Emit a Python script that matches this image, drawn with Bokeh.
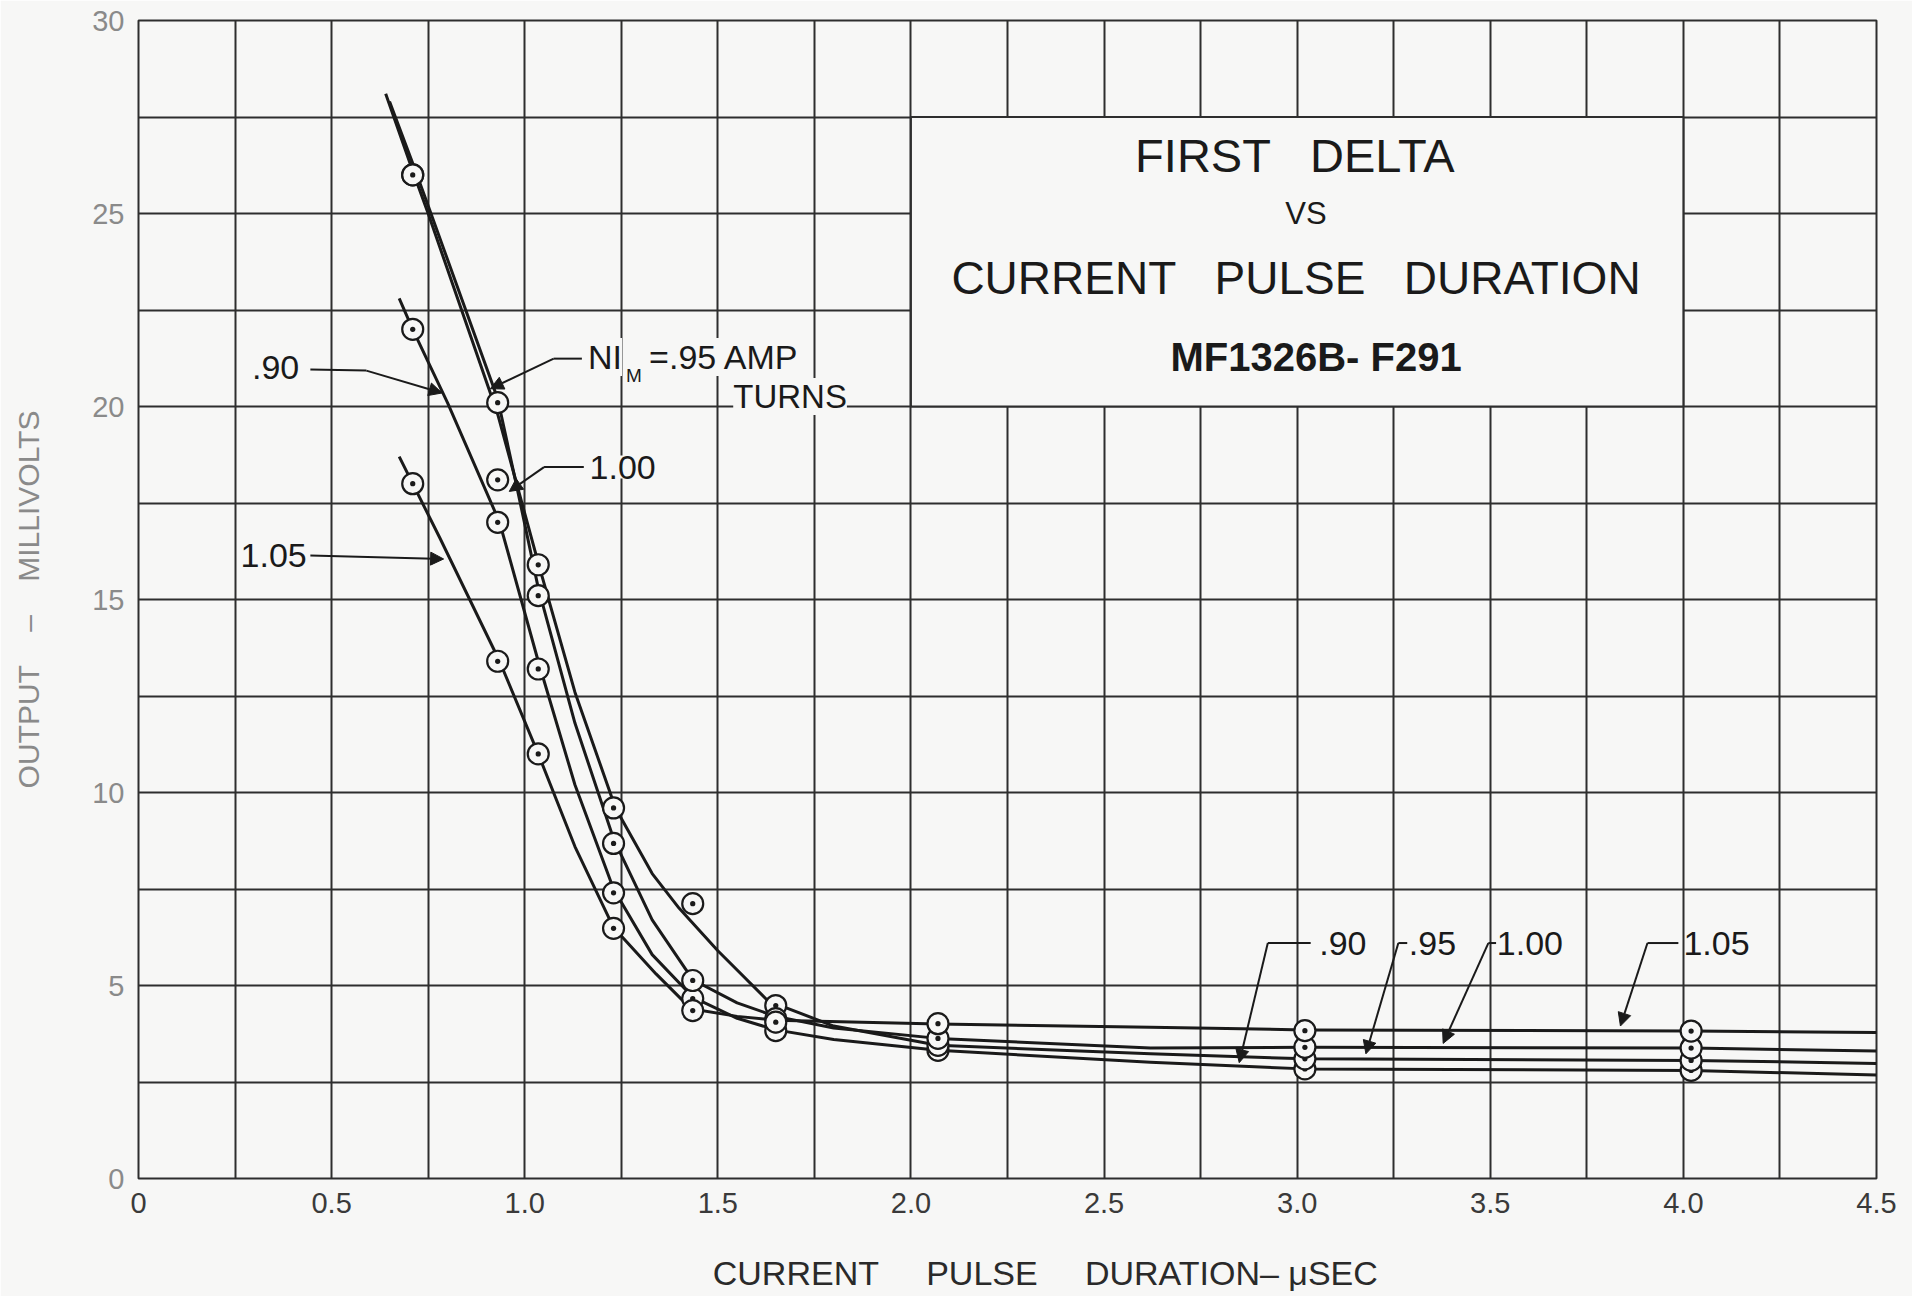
from bokeh.plotting import figure
from bokeh.models import Range1d, FixedTicker, Label, Arrow, NormalHead, BoxAnnotation
from bokeh.embed import file_html
from bokeh.resources import INLINE

# ---------------- data ----------------
x_ticks = [0, 0.5, 1.0, 1.5, 2.0, 2.5, 3.0, 3.5, 4.0, 4.5]
x_tick_labels = ["0", "0.5", "1.0", "1.5", "2.0", "2.5", "3.0", "3.5", "4.0", "4.5"]
y_ticks = [0, 5, 10, 15, 20, 25, 30]
x_grid = [0, 0.25, 0.5, 0.75, 1.0, 1.25, 1.5, 1.75, 2.0, 2.25, 2.5, 2.75,
          3.0, 3.25, 3.5, 3.75, 4.0, 4.25, 4.5]
y_grid = [0, 2.5, 5, 7.5, 10, 12.5, 15, 17.5, 20, 22.5, 25, 27.5, 30]

# measured points (pulse duration, usec)
pulse_x = [0.71, 0.93, 1.035, 1.23, 1.435, 1.65, 2.07, 3.02, 4.02]
pts_090 = [22.0, 17.0, 13.2, 7.4, 4.66, 3.83, 3.32, 2.84, 2.80]
pts_095 = [26.0, 20.1, 15.9, 9.6, 7.12, 4.48, 3.45, 3.10, 3.06]
pts_100 = [26.0, 18.1, 15.1, 8.68, 5.13, 4.14, 3.63, 3.40, 3.38]
pts_105 = [18.0, 13.4, 11.0, 6.48, 4.35, 4.05, 4.01, 3.83, 3.82]

# hand-drawn fitted curves
c090_x = [0.675, 0.71, 0.80, 0.935, 1.035, 1.13, 1.23, 1.33, 1.435, 1.55, 1.65, 1.80, 2.07, 2.62, 3.02, 4.02, 4.5]
c090_y = [22.8, 22.0, 20.1, 17.0, 13.4, 10.2, 7.5, 5.8, 4.7, 4.15, 3.85, 3.6, 3.32, 3.01, 2.84, 2.80, 2.68]

c095_x = [0.64, 0.71, 0.75, 0.93, 1.035, 1.13, 1.235, 1.33, 1.40, 1.50, 1.63, 1.80, 2.07, 2.62, 3.02, 4.02, 4.5]
c095_y = [28.1, 26.1, 25.0, 19.8, 15.95, 12.6, 9.6, 7.9, 7.0, 5.9, 4.6, 3.95, 3.45, 3.23, 3.10, 3.06, 2.98]

c100_x = [0.65, 0.71, 0.75, 0.93, 0.98, 1.035, 1.13, 1.23, 1.33, 1.435, 1.55, 1.65, 1.80, 2.07, 2.62, 3.02, 4.02, 4.5]
c100_y = [27.9, 26.3, 25.2, 20.2, 17.9, 15.3, 11.8, 8.8, 6.7, 5.15, 4.55, 4.2, 3.9, 3.63, 3.38, 3.40, 3.38, 3.30]

c105_x = [0.675, 0.71, 0.78, 0.935, 1.035, 1.13, 1.23, 1.34, 1.43, 1.55, 1.65, 2.07, 2.62, 3.02, 4.02, 4.5]
c105_y = [18.7, 18.0, 16.6, 13.4, 11.0, 8.6, 6.5, 5.3, 4.4, 4.2, 4.1, 4.0, 3.92, 3.85, 3.82, 3.78]

series = [
    (c090_x, c090_y, pts_090),
    (c095_x, c095_y, pts_095),
    (c100_x, c100_y, pts_100),
    (c105_x, c105_y, pts_105),
]

# ---------------- styling ----------------
BG = "#f7f7f6"
INK = "#1a1a1a"
GRID = "#2e2e2e"
FONT = "Liberation Sans"
NB = "\u00a0"

p = figure(width=1912, height=1296, x_range=Range1d(0, 4.5), y_range=Range1d(0, 30),
           output_backend="svg", toolbar_location=None, title=None,
           min_border_left=138, min_border_right=36, min_border_top=20, min_border_bottom=118,
           background_fill_color=BG, border_fill_color=BG,
           outline_line_color=GRID, outline_line_width=2)

# grid
p.xgrid.ticker = FixedTicker(ticks=x_grid)
p.ygrid.ticker = FixedTicker(ticks=y_grid)
for g in (p.xgrid, p.ygrid):
    g.grid_line_color = GRID
    g.grid_line_width = 2
    g.grid_line_alpha = 1.0

# axes
p.xaxis.ticker = FixedTicker(ticks=x_ticks)
p.xaxis.major_label_overrides = {t: s for t, s in zip(x_ticks, x_tick_labels)}
p.yaxis.ticker = FixedTicker(ticks=y_ticks)
for ax in (p.xaxis, p.yaxis):
    ax.axis_line_color = None
    ax.major_tick_line_color = None
    ax.minor_tick_line_color = None
    ax.major_tick_out = 0
    ax.major_tick_in = 0
    ax.major_label_text_font = FONT
    ax.major_label_text_font_size = "29px"
    ax.axis_label_text_font = FONT
    ax.axis_label_text_font_style = "normal"

p.xaxis.major_label_text_color = "#3a3a3a"
p.xaxis.major_label_standoff = 14
# leading no-break spaces shift the centred title to the right, as in the reference
p.xaxis.axis_label = NB * 8 + "CURRENT" + NB * 5 + "PULSE" + NB * 5 + "DURATION–" + NB + "μSEC"
p.xaxis.axis_label_text_font_size = "34px"
p.xaxis.axis_label_text_color = "#2a2a2a"
p.xaxis.axis_label_standoff = 38

p.yaxis.major_label_text_color = "#8a8a8a"
p.yaxis.major_label_standoff = 14
p.yaxis.axis_label = "OUTPUT" + NB * 4 + "–" + NB * 4 + "MILLIVOLTS"
p.yaxis.axis_label_text_font_size = "30px"
p.yaxis.axis_label_text_color = "#8a8a8a"
p.yaxis.axis_label_standoff = 44

# title box (clears the grid behind the title)
p.add_layout(BoxAnnotation(left=2.0, right=4.0, bottom=20.0, top=27.5,
                           fill_color=BG, fill_alpha=1.0,
                           line_color=GRID, line_width=2, line_alpha=1.0))

# curves and points
for cx, cy, pts in series:
    p.line(cx, cy, line_width=3, line_color=INK, line_join="round")
for cx, cy, pts in series:
    p.scatter(pulse_x, pts, marker="circle_dot", size=21, line_width=2.2,
              line_color=INK, fill_color=BG)


def lab(x, y, text, size, align="center", bold=False, bg=False, color=INK):
    l = Label(x=x, y=y, text=text, text_font=FONT, text_font_size=f"{size}px",
              text_align=align, text_baseline="middle", text_color=color,
              text_font_style="bold" if bold else "normal")
    if bg:
        l.background_fill_color = BG
        l.background_fill_alpha = 1.0
    p.add_layout(l)


def leader(path, tip):
    xs = [pt[0] for pt in path]
    ys = [pt[1] for pt in path]
    if len(path) > 1:
        p.line(xs, ys, line_width=2, line_color=INK)
    p.add_layout(Arrow(end=NormalHead(size=13, fill_color=INK, line_color=INK, line_width=1),
                       x_start=xs[-1], y_start=ys[-1], x_end=tip[0], y_end=tip[1],
                       line_width=2, line_color=INK))


# title texts
lab(2.994, 26.5, "FIRST" + NB * 3 + "DELTA", 47)
lab(3.023, 25.0, "VS", 31)
lab(2.997, 23.33, "CURRENT" + NB * 3 + "PULSE" + NB * 3 + "DURATION", 46)
lab(3.049, 21.27, "MF1326B-" + NB + "F291", 40, bold=True)

# left-hand curve labels
lab(0.355, 21.0, ".90", 34)
leader([(0.445, 20.96), (0.59, 20.93)], (0.786, 20.35))
lab(0.35, 16.14, "1.05", 34)
leader([(0.445, 16.14)], (0.79, 16.05))

lab(1.164, 21.28, "NI", 34, align="left", bg=True)
lab(1.262, 20.8, "M", 19, align="left", bg=True)
lab(1.322, 21.28, "=.95 AMP", 34, align="left", bg=True)
leader([(1.148, 21.24), (1.075, 21.24)], (0.911, 20.46))
lab(1.687, 20.26, "TURNS", 33, bg=True)

lab(1.168, 18.43, "1.00", 34, align="left", bg=True)
leader([(1.153, 18.43), (1.05, 18.43)], (0.96, 17.8))

# right-hand curve labels
lab(3.057, 6.1, ".90", 34, align="left")
leader([(3.035, 6.1), (2.924, 6.1)], (2.85, 3.0))
lab(3.289, 6.1, ".95", 34, align="left")
leader([(3.285, 6.1), (3.262, 6.1)], (3.178, 3.23))
lab(3.517, 6.1, "1.00", 34, align="left")
leader([(3.515, 6.1), (3.495, 6.1)], (3.378, 3.5))
lab(4.0, 6.1, "1.05", 34, align="left")
leader([(3.987, 6.1), (3.907, 6.1)], (3.837, 3.95))

open("out.html", "w").write(file_html(p, INLINE))
